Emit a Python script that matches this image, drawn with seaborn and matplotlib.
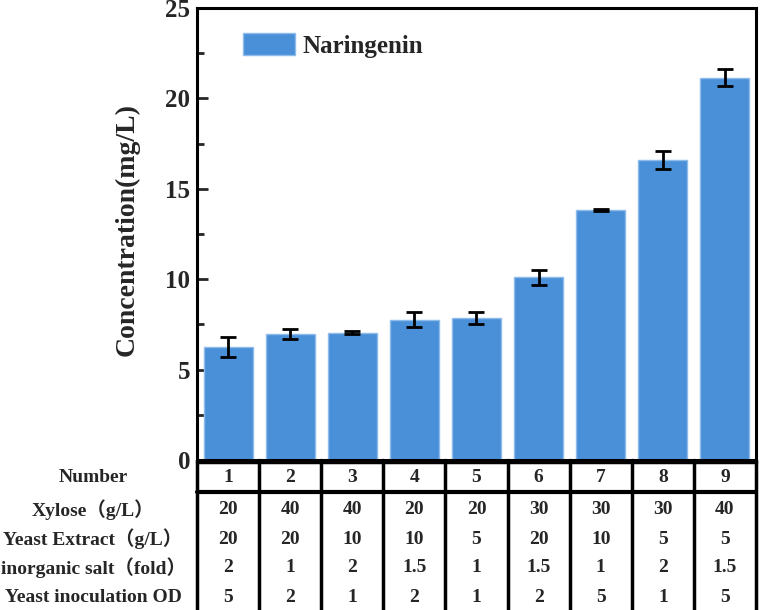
import matplotlib
matplotlib.use("Agg")
import matplotlib.pyplot as plt
from matplotlib.patches import Patch
from matplotlib.transforms import blended_transform_factory
from matplotlib.ticker import MultipleLocator
import seaborn as sns
import pandas as pd

# data
numbers = ["1", "2", "3", "4", "5", "6", "7", "8", "9"]
naringenin = [6.25, 6.97, 7.04, 7.76, 7.84, 10.1, 13.83, 16.6, 21.15]
naringenin_err = [0.55, 0.3, 0.08, 0.4, 0.33, 0.42, 0.08, 0.5, 0.45]

row_labels = ["Xylose（g/L）", "Yeast Extract（g/L）", "inorganic salt（fold）", "Yeast inoculation OD"]
xylose = ["20", "40", "40", "20", "20", "30", "30", "30", "40"]
yeast_extract = ["20", "20", "10", "10", "5", "20", "10", "5", "5"]
inorganic_salt = ["2", "1", "2", "1.5", "1", "1.5", "1", "2", "1.5"]
inoculation_od = ["5", "2", "1", "2", "1", "2", "5", "1", "5"]
table_rows = [xylose, yeast_extract, inorganic_salt, inoculation_od]

bar_color = "#4a90d9"

sns.set_theme(style="ticks")
plt.rcParams["font.family"] = ["Liberation Serif", "Noto Sans CJK SC"]
plt.rcParams["font.weight"] = "bold"
plt.rcParams["axes.labelweight"] = "bold"

df = pd.DataFrame({"Number": numbers, "Concentration": naringenin})

fig = plt.figure(figsize=(7.6, 6.1), dpi=100)
W, H = 760, 610
x0, x1, ytop, ybot = 197, 756, 8, 460
ax = fig.add_axes([x0 / W, 1 - ybot / H, (x1 - x0) / W, (ybot - ytop) / H])
tab = fig.add_axes([x0 / W, 0, (x1 - x0) / W, 1 - ybot / H])

sns.barplot(data=df, x="Number", y="Concentration", color=bar_color, width=0.79,
            errorbar=None, edgecolor="#8dbbea", linewidth=1, saturation=1, ax=ax)
ax.errorbar(range(len(numbers)), naringenin, yerr=naringenin_err, fmt="none",
            ecolor="black", elinewidth=2, capsize=5.5, capthick=2)

ax.set_xlim(-0.5, len(numbers) - 0.5)
ax.set_ylim(0, 25)
ax.yaxis.set_major_locator(MultipleLocator(5))
ax.yaxis.set_minor_locator(MultipleLocator(2.5))
ax.tick_params(axis="y", which="major", direction="in", length=8, width=2, labelsize=18, pad=5)
ax.tick_params(axis="y", which="minor", direction="in", length=5, width=2)
ax.tick_params(axis="x", bottom=False, labelbottom=False)
ax.set_xlabel("")
ax.set_ylabel("Concentration(mg/L)", fontsize=20, fontweight="bold")
ax.yaxis.set_label_coords(-0.102, 0.51)
for s in ax.spines.values():
    s.set_visible(True)
    s.set_linewidth(2.2)
    s.set_color("black")

ax.legend(handles=[Patch(facecolor=bar_color, edgecolor="#8dbbea", label="Naringenin")],
          loc="upper left", bbox_to_anchor=(0.082, 0.945), frameon=False,
          handlelength=2.1, handleheight=1.0, handletextpad=0.3,
          borderaxespad=0, borderpad=0, prop={"weight": "bold", "size": 18})

# table under the bars
tab.set_xlim(-0.5, len(numbers) - 0.5)
tab.set_ylim(150, 0)
tab.axis("off")
lw = 2.5
for k in range(len(numbers) + 1):
    tab.plot([k - 0.5, k - 0.5], [0, 150], color="black", lw=lw, clip_on=False)
tab.plot([-0.5, len(numbers) - 0.5], [2, 2], color="black", lw=lw, clip_on=False)
tab.plot([-0.5, len(numbers) - 0.5], [31.5, 31.5], color="black", lw=3, clip_on=False)

lab_tr = blended_transform_factory(tab.transAxes, tab.transData)
tab.text(-0.186, 17, "Number", transform=lab_tr, ha="center", va="center",
         fontsize=14, fontweight="bold")
for i, n in enumerate(numbers):
    tab.text(i, 17, n, ha="center", va="center", fontsize=14, fontweight="bold")

row_y = [50, 79, 108, 137]
for lab, vals, yy in zip(row_labels, table_rows, row_y):
    tab.text(-0.186, yy, lab, transform=lab_tr, ha="center", va="center",
             fontsize=14, fontweight="bold")
    for i, v in enumerate(vals):
        tab.text(i, yy, v, ha="center", va="center", fontsize=14, fontweight="bold")

fig.savefig("out.png", dpi=100)
